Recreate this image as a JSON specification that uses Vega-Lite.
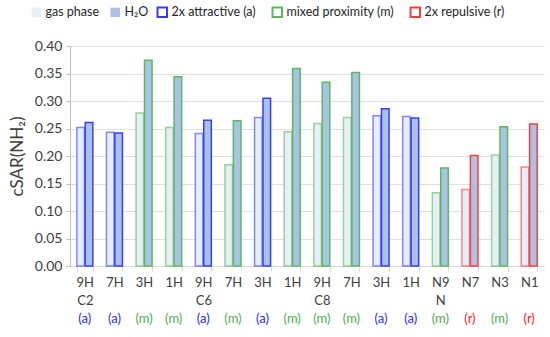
{
  "$schema": "https://vega.github.io/schema/vega-lite/v6.json",
  "width": 474,
  "height": 220,
  "padding": {"left": 8, "top": 6, "right": 4, "bottom": 4},
  "config": {
    "font": "Lato",
    "view": {"stroke": null},
    "legend": {"labelFontSize": 12.5, "labelColor": "#262626", "symbolSize": 90, "columnPadding": 9, "labelFont": "Lato", "labelOffset": 3}
  },
  "data": {"values": [
    {"id": "01|9H|C2|(a)", "type": "2x attractive (a)", "phase": "gas phase", "value": 0.252},
    {"id": "01|9H|C2|(a)", "type": "2x attractive (a)", "phase": "H₂O", "value": 0.261},
    {"id": "02|7H||(a)", "type": "2x attractive (a)", "phase": "gas phase", "value": 0.243},
    {"id": "02|7H||(a)", "type": "2x attractive (a)", "phase": "H₂O", "value": 0.242},
    {"id": "03|3H||(m)", "type": "mixed proximity (m)", "phase": "gas phase", "value": 0.278},
    {"id": "03|3H||(m)", "type": "mixed proximity (m)", "phase": "H₂O", "value": 0.374},
    {"id": "04|1H||(m)", "type": "mixed proximity (m)", "phase": "gas phase", "value": 0.252},
    {"id": "04|1H||(m)", "type": "mixed proximity (m)", "phase": "H₂O", "value": 0.344},
    {"id": "05|9H|C6|(a)", "type": "2x attractive (a)", "phase": "gas phase", "value": 0.241},
    {"id": "05|9H|C6|(a)", "type": "2x attractive (a)", "phase": "H₂O", "value": 0.265},
    {"id": "06|7H||(m)", "type": "mixed proximity (m)", "phase": "gas phase", "value": 0.184},
    {"id": "06|7H||(m)", "type": "mixed proximity (m)", "phase": "H₂O", "value": 0.264},
    {"id": "07|3H||(a)", "type": "2x attractive (a)", "phase": "gas phase", "value": 0.270},
    {"id": "07|3H||(a)", "type": "2x attractive (a)", "phase": "H₂O", "value": 0.305},
    {"id": "08|1H||(m)", "type": "mixed proximity (m)", "phase": "gas phase", "value": 0.244},
    {"id": "08|1H||(m)", "type": "mixed proximity (m)", "phase": "H₂O", "value": 0.359},
    {"id": "09|9H|C8|(m)", "type": "mixed proximity (m)", "phase": "gas phase", "value": 0.259},
    {"id": "09|9H|C8|(m)", "type": "mixed proximity (m)", "phase": "H₂O", "value": 0.334},
    {"id": "10|7H||(m)", "type": "mixed proximity (m)", "phase": "gas phase", "value": 0.270},
    {"id": "10|7H||(m)", "type": "mixed proximity (m)", "phase": "H₂O", "value": 0.352},
    {"id": "11|3H||(a)", "type": "2x attractive (a)", "phase": "gas phase", "value": 0.273},
    {"id": "11|3H||(a)", "type": "2x attractive (a)", "phase": "H₂O", "value": 0.286},
    {"id": "12|1H||(a)", "type": "2x attractive (a)", "phase": "gas phase", "value": 0.272},
    {"id": "12|1H||(a)", "type": "2x attractive (a)", "phase": "H₂O", "value": 0.269},
    {"id": "13|N9|N|(m)", "type": "mixed proximity (m)", "phase": "gas phase", "value": 0.133},
    {"id": "13|N9|N|(m)", "type": "mixed proximity (m)", "phase": "H₂O", "value": 0.178},
    {"id": "14|N7||(r)", "type": "2x repulsive (r)", "phase": "gas phase", "value": 0.139},
    {"id": "14|N7||(r)", "type": "2x repulsive (r)", "phase": "H₂O", "value": 0.201},
    {"id": "15|N3||(m)", "type": "mixed proximity (m)", "phase": "gas phase", "value": 0.202},
    {"id": "15|N3||(m)", "type": "mixed proximity (m)", "phase": "H₂O", "value": 0.253},
    {"id": "16|N1||(r)", "type": "2x repulsive (r)", "phase": "gas phase", "value": 0.180},
    {"id": "16|N1||(r)", "type": "2x repulsive (r)", "phase": "H₂O", "value": 0.258}
  ]},
  "layer": [
    {
      "mark": {"type": "bar", "strokeWidth": 1.5},
      "encoding": {
        "x": {
          "field": "id", "type": "nominal", "sort": null,
          "scale": {"paddingInner": 0.46, "paddingOuter": 0.23},
          "axis": {
            "title": null, "labelAngle": 0, "orient": "bottom",
            "labelExpr": "[split(datum.label,'|')[1], split(datum.label,'|')[2]]",
            "tickBand": "extent", "domainColor": "#d9d9d9", "tickColor": "#d9d9d9", "tickSize": 5,
            "labelColor": "#404040", "labelFontSize": 13, "labelLineHeight": 18, "labelPadding": 5
          }
        },
        "xOffset": {"field": "phase", "type": "nominal", "sort": ["gas phase", "H₂O"], "scale": {"paddingInner": 0.1}},
        "y": {
          "field": "value", "type": "quantitative", "stack": null,
          "scale": {"domain": [0, 0.4]},
          "axis": {
            "title": "cSAR(NH₂)", "titleFontSize": 17, "titleFontWeight": "normal", "titleColor": "#404040", "titlePadding": 8,
            "format": ".2f", "tickCount": 8, "labelFontSize": 14, "labelColor": "#404040",
            "gridColor": "#e0e0e0", "domainColor": "#bfbfbf", "tickColor": "#bfbfbf", "tickSize": 4, "labelPadding": 4
          }
        },
        "fill": {
          "field": "phase", "type": "nominal", "sort": ["gas phase", "H₂O"],
          "scale": {"domain": ["gas phase", "H₂O"], "range": ["#e6eef8", "#a9c3e5"]},
          "legend": {"title": null, "orient": "none", "legendX": -40, "legendY": -40, "direction": "horizontal", "symbolType": "square", "symbolStrokeWidth": 0}
        },
        "stroke": {
          "field": "type", "type": "nominal",
          "scale": {"domain": ["2x attractive (a)", "mixed proximity (m)", "2x repulsive (r)"], "range": ["#3b3bff", "#5cb85c", "#ff3b3b"]},
          "legend": {"title": null, "orient": "none", "legendX": 86, "legendY": -40, "direction": "horizontal", "symbolType": "square", "symbolFillColor": "white", "symbolStrokeWidth": 2, "columnPadding": 12}
        },
        "strokeOpacity": {"condition": {"test": "datum.phase == 'gas phase'", "value": 0.6}, "value": 1}
      }
    },
    {
      "mark": {"type": "bar", "opacity": 0},
      "encoding": {
        "x": {
          "field": "id", "type": "nominal", "sort": null,
          "axis": {
            "title": null, "labelAngle": 0, "orient": "bottom", "domain": false, "ticks": false, "grid": false,
            "labelExpr": "split(datum.label,'|')[3]",
            "labelFontSize": 13, "labelPadding": 46,
            "labelColor": {"condition": [
              {"test": "indexof(datum.value,'(m)') >= 0", "value": "#4caf50"},
              {"test": "indexof(datum.value,'(r)') >= 0", "value": "#ff2020"}
            ], "value": "#2b2bff"}
          }
        },
        "y": {"field": "value", "type": "quantitative", "stack": null}
      }
    }
  ],
  "resolve": {"axis": {"x": "independent"}}
}
